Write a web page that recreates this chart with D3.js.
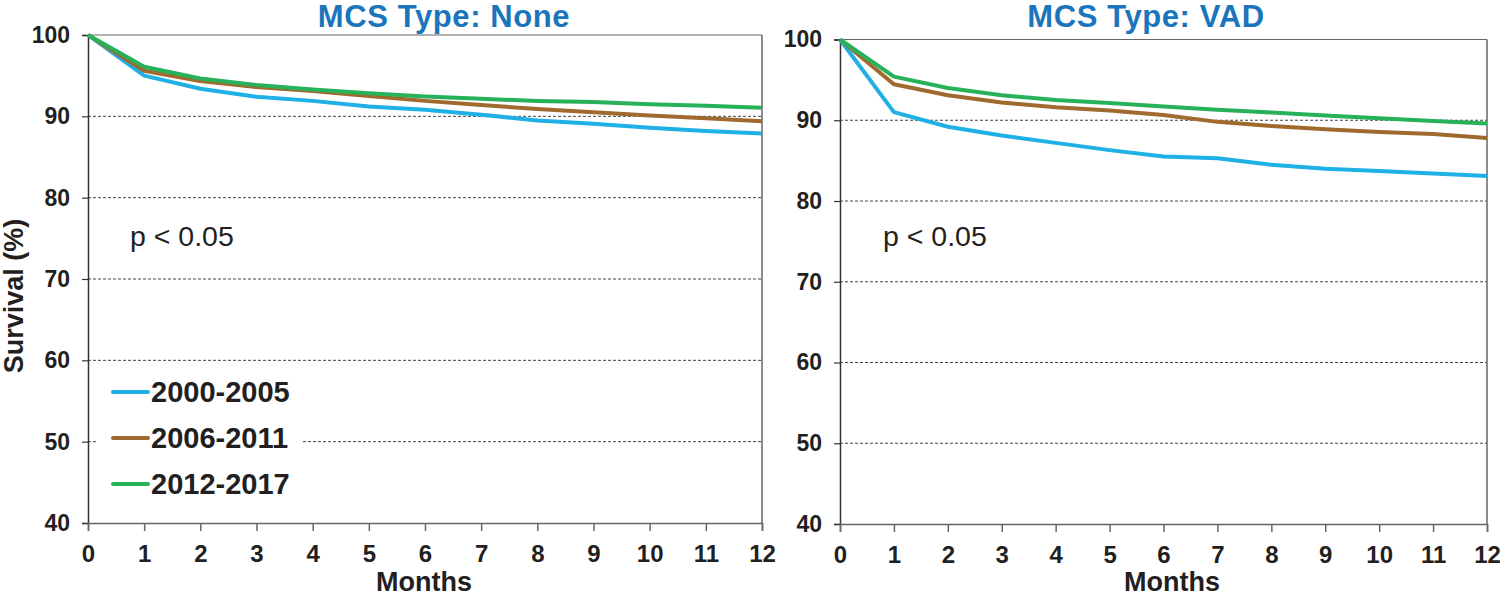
<!DOCTYPE html>
<html>
<head>
<meta charset="utf-8">
<script src="https://cdn.jsdelivr.net/npm/d3@7"></script>
<style>
  html, body { margin: 0; padding: 0; background: #fff; }
  svg { display: block; font-family: "Liberation Sans", Arial, sans-serif; }
</style>
</head>
<body>
<svg id="chart" width="1500" height="596"></svg>
<script>
// ---- data ----
const months = [0, 1, 2, 3, 4, 5, 6, 7, 8, 9, 10, 11, 12];
const seriesNames = ["2000-2005", "2006-2011", "2012-2017"];
const seriesColors = ["#1fb0e6", "#a06a2e", "#27b25a"];
const yTicks = [40, 50, 60, 70, 80, 90, 100];
const xTicks = [0, 1, 2, 3, 4, 5, 6, 7, 8, 9, 10, 11, 12];
const panelTitles = ["MCS Type: None", "MCS Type: VAD"];
const pValueLabels = ["p < 0.05", "p < 0.05"];

const none2000 = [100, 95.0, 93.4, 92.4, 91.9, 91.2, 90.8, 90.2, 89.5, 89.1, 88.6, 88.2, 87.9];
const none2006 = [100, 95.6, 94.35, 93.6, 93.1, 92.5, 91.9, 91.4, 90.9, 90.5, 90.1, 89.75, 89.4];
const none2012 = [100, 96.1, 94.65, 93.85, 93.3, 92.85, 92.45, 92.15, 91.9, 91.75, 91.5, 91.3, 91.05];

const vad2000 = [100, 91.0, 89.2, 88.1, 87.2, 86.3, 85.5, 85.3, 84.5, 84.0, 83.7, 83.4, 83.1];
const vad2006 = [100, 94.45, 93.1, 92.2, 91.6, 91.2, 90.65, 89.8, 89.3, 88.9, 88.55, 88.3, 87.8];
const vad2012 = [100, 95.4, 94.0, 93.1, 92.5, 92.15, 91.7, 91.3, 90.95, 90.6, 90.25, 89.9, 89.6];

// ---- layout ----
const panels = [
  { title: panelTitles[0], p: pValueLabels[0], series: [none2000, none2006, none2012],
    left: 88, right: 762, top: 35, bottom: 523, titleX: 444, monthsX: 424, pX: 130, legend: true },
  { title: panelTitles[1], p: pValueLabels[1], series: [vad2000, vad2006, vad2012],
    left: 840, right: 1487, top: 39.5, bottom: 524, titleX: 1146, monthsX: 1172, pX: 883, legend: false }
];

const svg = d3.select("#chart");
const textColor = "#231f20";

panels.forEach(P => {
  const x = d3.scaleLinear().domain([0, 12]).range([P.left, P.right]);
  const y = d3.scaleLinear().domain([40, 100]).range([P.bottom, P.top]);
  const g = svg.append("g");

  // gridlines (dashed)
  g.selectAll("line.grid").data(yTicks.filter(v => v > 40 && v < 100)).join("line")
    .attr("class", "grid")
    .attr("x1", P.left).attr("x2", P.right)
    .attr("y1", d => y(d)).attr("y2", d => y(d))
    .attr("stroke", "#444").attr("stroke-width", 1).attr("stroke-dasharray", "3,2");

  // frame top & right
  g.append("line").attr("x1", P.left).attr("x2", P.right).attr("y1", y(100)).attr("y2", y(100))
    .attr("stroke", "#666").attr("stroke-width", 1.2);
  g.append("line").attr("x1", P.right).attr("x2", P.right).attr("y1", y(100)).attr("y2", y(40))
    .attr("stroke", "#666").attr("stroke-width", 1.5);

  // legend background box (covers gridlines)
  if (P.legend) {
    g.append("rect").attr("x", 96).attr("y", 368).attr("width", 207).attr("height", 150).attr("fill", "#fff");
  }

  // axes
  const yAxis = d3.axisLeft(y).tickValues(yTicks).tickSize(6).tickPadding(12).tickFormat(d3.format("d"));
  const ya = g.append("g").attr("transform", `translate(${P.left},0)`).call(yAxis);
  ya.select(".domain").attr("stroke", "#333").attr("stroke-width", 1.5);
  ya.selectAll(".tick line").attr("stroke", "#333").attr("stroke-width", 1.2);
  ya.selectAll(".tick text").attr("fill", textColor).attr("font-size", 23).attr("font-weight", "bold")
    .attr("font-family", "Liberation Sans, Arial, sans-serif");

  const xAxis = d3.axisBottom(x).tickValues(xTicks).tickSize(8).tickPadding(14).tickFormat(d3.format("d"));
  const xa = g.append("g").attr("transform", `translate(0,${P.bottom})`).call(xAxis);
  xa.select(".domain").attr("stroke", "#666").attr("stroke-width", 1.5);
  xa.selectAll(".tick line").attr("stroke", "#666").attr("stroke-width", 1.5);
  xa.selectAll(".tick text").attr("fill", textColor).attr("font-size", 24).attr("font-weight", "bold")
    .attr("font-family", "Liberation Sans, Arial, sans-serif");

  // lines
  const line = d3.line().x((d, i) => x(months[i])).y(d => y(d));
  P.series.forEach((s, i) => {
    g.append("path").datum(s).attr("d", line).attr("fill", "none")
      .attr("stroke", seriesColors[i]).attr("stroke-width", 4)
      .attr("stroke-linejoin", "round").attr("stroke-linecap", "butt");
  });

  // title
  g.append("text").attr("x", P.titleX).attr("y", 27).attr("text-anchor", "middle")
    .attr("font-size", 31).attr("letter-spacing", 0.6).attr("font-weight", "bold")
    .attr("fill", "#1a75bc").text(P.title);

  // x label
  g.append("text").attr("x", P.monthsX).attr("y", 591).attr("text-anchor", "middle")
    .attr("font-size", 27).attr("font-weight", "bold").attr("fill", textColor).text("Months");

  // p-value
  g.append("text").attr("x", P.pX).attr("y", 246)
    .attr("font-size", 28.5).attr("fill", textColor).text(P.p);

  // legend
  if (P.legend) {
    const ly = [392, 438, 484];
    seriesNames.forEach((n, i) => {
      g.append("line").attr("x1", 113).attr("x2", 148).attr("y1", ly[i]).attr("y2", ly[i])
        .attr("stroke", seriesColors[i]).attr("stroke-width", 4).attr("stroke-linecap", "round");
      g.append("text").attr("x", 151).attr("y", ly[i] + 10)
        .attr("font-size", 29).attr("font-weight", "bold").attr("fill", textColor).text(n);
    });
  }
});

// y label
svg.append("text").attr("transform", "translate(23,296) rotate(-90)").attr("text-anchor", "middle")
  .attr("font-size", 27).attr("font-weight", "bold").attr("fill", textColor).text("Survival (%)");
</script>
</body>
</html>
